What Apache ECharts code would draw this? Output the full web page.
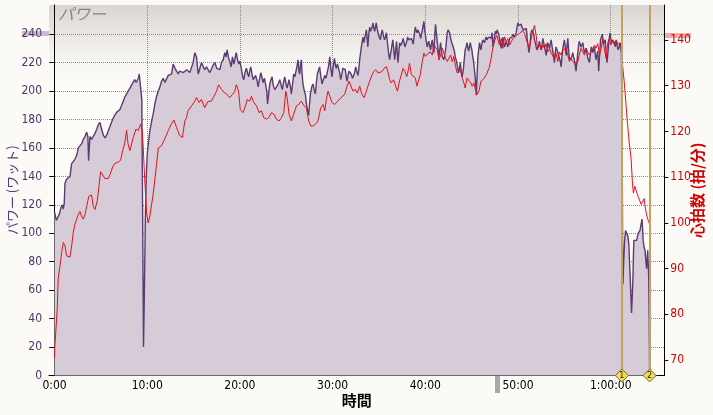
<!DOCTYPE html>
<html>
<head>
<meta charset="utf-8">
<script src="https://cdn.jsdelivr.net/npm/echarts@6/dist/echarts.min.js"></script>
<style>
html,body{margin:0;padding:0;background:#fcfaf6;}
#chart{width:713px;height:415px;}
</style>
</head>
<body>
<div id="chart"></div>
<script>
// ---- data (time in minutes) ----
const powerTime = [
0,0.1,0.2,0.4,0.55,0.7,0.85,0.95,1.05,1.13,
1.3,1.5,1.67,1.85,2.0,2.2,2.4,2.57,2.75,2.93,
3.1,3.29,3.47,3.6,3.68,3.75,3.83,4.0,4.18,4.35,
4.55,4.7,4.9,5.05,5.27,5.45,5.63,5.8,5.98,6.15,
6.34,6.5,6.7,6.9,7.06,7.25,7.42,7.6,7.78,7.95,
8.13,8.3,8.49,8.65,8.8,8.93,9.05,9.14,9.32,9.42,
9.5,9.6,9.7,9.8,9.9,10.0,10.15,10.29,10.45,10.65,
10.8,11.0,11.2,11.37,11.55,11.73,11.9,12.09,12.27,12.45,
12.63,12.8,13.0,13.2,13.34,13.5,13.7,13.9,14.06,14.25,
14.42,14.6,14.78,14.95,15.14,15.32,15.5,15.68,15.85,16.0,
16.2,16.4,16.57,16.75,16.9,17.1,17.3,17.5,17.66,17.85,
18.0,18.2,18.37,18.5,18.62,18.75,18.9,19.05,19.2,19.35,
19.45,19.6,19.75,19.88,20.0,20.17,20.3,20.42,20.55,20.7,
20.85,20.96,21.06,21.17,21.3,21.43,21.55,21.7,21.85,21.97,
22.1,22.26,22.4,22.5,22.65,22.8,22.9,22.98,23.1,23.22,
23.35,23.47,23.6,23.76,23.9,24.05,24.2,24.3,24.45,24.58,
24.7,24.84,24.95,25.09,25.2,25.3,25.45,25.55,25.7,25.8,
25.92,26.02,26.15,26.27,26.37,26.45,26.55,26.63,26.7,26.8,
26.95,27.06,27.18,27.28,27.42,27.5,27.6,27.75,27.9,28.0,
28.14,28.25,28.36,28.5,28.6,28.72,28.86,29.0,29.15,29.28,
29.4,29.55,29.7,29.82,29.94,30.07,30.2,30.3,30.4,30.52,
30.65,30.76,30.87,31.0,31.1,31.25,31.37,31.47,31.55,31.66,
31.77,31.9,32.0,32.15,32.27,32.38,32.49,32.6,32.74,32.85,
32.92,33.02,33.1,33.2,33.28,33.37,33.46,33.55,33.64,33.72,
33.8,33.9,34.0,34.09,34.18,34.27,34.36,34.45,34.54,34.62,
34.7,34.8,34.9,35.03,35.15,35.25,35.36,35.48,35.6,35.7,
35.8,35.9,36.0,36.08,36.15,36.25,36.33,36.42,36.5,36.6,
36.7,36.8,36.9,36.97,37.05,37.14,37.23,37.32,37.4,37.5,
37.6,37.7,37.8,37.9,38.0,38.1,38.2,38.3,38.4,38.5,
38.6,38.7,38.8,38.92,39.0,39.1,39.2,39.3,39.4,39.5,
39.58,39.67,39.76,39.85,39.93,40.0,40.1,40.2,40.28,40.37,
40.47,40.57,40.66,40.75,40.84,40.93,41.0,41.1,41.2,41.3,
41.38,41.47,41.56,41.65,41.74,41.83,41.92,42.0,42.1,42.19,
42.28,42.37,42.46,42.55,42.62,42.7,42.8,42.87,42.96,43.05,
43.14,43.23,43.32,43.4,43.5,43.6,43.68,43.77,43.86,43.95,
44.03,44.1,44.2,44.3,44.4,44.5,44.58,44.67,44.76,44.85,
44.94,45.02,45.1,45.2,45.3,45.38,45.45,45.5,45.58,45.67,
45.76,45.85,45.93,46.0,46.1,46.2,46.3,46.38,46.47,46.56,
46.65,46.74,46.82,46.93,47.1,47.2,47.3,47.46,47.55,47.65,
47.75,47.83,47.92,48.0,48.1,48.2,48.28,48.37,48.46,48.55,
48.64,48.73,48.82,48.9,49.0,49.1,49.18,49.26,49.36,49.45,
49.52,49.6,49.7,49.8,49.9,49.98,50.07,50.15,50.25,50.34,
50.42,50.5,50.6,50.7,50.8,50.9,50.95,51.0,51.1,51.2,
51.3,51.4,51.5,51.6,51.7,51.78,51.87,51.96,52.03,52.1,
52.2,52.3,52.4,52.5,52.6,52.68,52.77,52.86,52.95,53.04,
53.12,53.2,53.3,53.4,53.48,53.57,53.66,53.75,53.84,53.93,
54.0,54.1,54.2,54.3,54.38,54.47,54.56,54.65,54.74,54.83,
54.92,55.0,55.1,55.19,55.28,55.37,55.46,55.55,55.62,55.7,
55.8,55.9,56.0,56.08,56.17,56.26,56.35,56.45,56.52,56.6,
56.7,56.8,56.9,56.99,57.08,57.17,57.26,57.35,57.43,57.5,
57.6,57.7,57.8,57.9,58.0,58.07,58.16,58.25,58.33,58.4,
58.5,58.6,58.65,58.7,58.8,58.9,59.0,59.1,59.15,59.2,
59.3,59.4,59.5,59.6,59.7,59.79,59.86,59.93,60.0,60.1,
60.2,60.3,60.4,60.5,60.55,60.6,60.7,60.8,60.9,61.0,
61.08,61.15,61.22,61.28,61.32,61.4,61.5,61.6,61.75,61.85,
61.96,62.03,62.1,62.18,62.25,62.32,62.4,62.45,62.5,62.65,
62.8,62.9,62.98,63.08,63.16,63.27,63.38,63.45,63.5,63.6,
63.7,63.8,63.87,63.93,63.99,64.05,64.1,64.15,64.2
];
const powerWatts = [
115,112,109,110,114,118,120,117,121,135,
138,139,140,149,150,152,155,160,161,163,
166,168,171,168,151,160,168,166,167,170,
173,176,178,174,169,167,169,172,175,178,
181,183,185,186,187,190,193,196,198,200,
202,204,205,208,206,205,209,212,211,194,
120,20,60,110,140,155,165,172,178,184,
190,196,200,203,207,209,206,207,211,210,
212,219,216,217,212,214,215,213,212,215,
216,213,214,220,227,224,212,216,220,218,
215,217,218,213,215,218,220,216,217,215,
220,222,227,224,229,224,221,217,224,219,
222,227,222,219,221,215,210,208,213,216,
212,210,214,217,212,208,209,211,207,203,
208,213,209,206,209,210,200,191,198,205,
208,210,204,201,202,204,206,208,204,201,
206,210,206,202,205,208,203,198,206,212,
210,211,217,222,214,212,219,222,213,205,
200,198,191,187,183,190,198,203,205,201,
198,206,212,215,217,211,205,208,211,209,
208,217,224,215,210,218,223,218,216,219,
220,213,208,212,216,215,215,210,207,211,
214,213,212,209,208,213,217,214,211,217,
222,227,231,235,238,234,234,240,243,237,
231,240,245,242,243,245,248,244,242,245,
248,244,241,238,236,240,243,239,236,238,
241,235,229,225,222,226,229,233,236,229,
222,229,235,227,220,227,234,232,231,234,
237,234,231,233,235,238,236,235,236,237,
235,233,239,245,243,241,243,244,240,237,
240,242,246,249,243,240,235,231,233,235,
232,229,233,236,231,227,237,247,240,234,
229,224,229,234,229,224,223,222,226,229,
235,241,243,244,241,238,235,234,232,231,
228,224,222,220,216,213,216,220,215,210,
212,215,222,229,231,234,231,228,231,234,
231,229,225,221,215,210,203,197,210,224,
229,234,231,229,233,236,235,234,236,238,
236,235,238,237,237,241,231,238,242,240,
243,244,240,237,233,230,234,238,234,231,
233,235,233,231,234,237,236,236,238,240,
239,238,239,241,245,248,246,245,246,247,
245,244,243,242,243,244,240,236,231,227,
234,241,243,244,240,236,234,231,229,228,
231,235,232,229,233,237,234,231,228,225,
229,234,232,230,233,236,232,228,224,220,
226,231,229,227,225,224,221,217,224,230,
233,236,231,225,231,237,229,222,221,221,
224,227,224,222,218,214,220,227,231,235,
233,231,232,234,230,227,228,230,227,224,
222,220,226,231,229,227,229,231,226,222,
225,228,221,214,225,236,238,240,236,233,
234,236,228,220,227,234,238,241,237,234,
236,237,234,231,234,236,232,229,231,234,
230,227,180,100,64,80,95,102,103,98,
92,80,69,55,44,55,69,85,95,95,
95,98,100,101,102,106,110,102,95,90,
88,80,75,82,88,78,69,40,0
];
const hrTime = [
0,0.05,0.12,0.3,0.4,0.6,0.77,0.95,1.13,1.3,
1.5,1.67,1.85,2.03,2.2,2.39,2.6,2.75,2.9,3.1,
3.28,3.47,3.7,4.0,4.18,4.36,4.6,4.8,4.97,5.2,
5.44,5.8,5.98,6.27,6.5,6.88,7.13,7.35,7.56,7.78,
7.93,8.13,8.3,8.5,8.78,9.03,9.3,9.46,9.57,9.75,
9.93,10.1,10.29,10.66,10.94,11.2,11.55,11.9,12.27,12.6,
12.88,13.16,13.5,13.8,14.06,14.24,14.4,14.78,15.14,15.32,
15.6,15.85,16.2,16.57,16.9,17.2,17.48,17.7,18.0,18.37,
18.6,18.9,19.2,19.45,19.6,19.75,19.88,20.04,20.33,20.6,
20.8,21.06,21.24,21.5,21.79,22.07,22.32,22.57,22.86,23.1,
23.4,23.65,23.94,24.23,24.48,24.73,24.95,25.09,25.3,25.55,
25.8,26.1,26.35,26.63,26.92,27.17,27.42,27.64,27.89,28.14,
28.36,28.54,28.72,28.97,29.15,29.33,29.5,29.7,29.94,30.2,
30.55,30.9,31.3,31.55,31.77,31.95,32.2,32.45,32.67,32.92,
33.17,33.4,33.64,33.8,34.0,34.18,34.43,34.65,34.9,35.08,
35.33,35.55,35.8,36.0,36.15,36.33,36.58,36.8,37.0,37.17,
37.35,37.6,37.8,38.0,38.1,38.3,38.5,38.7,38.92,39.1,
39.27,39.45,39.67,39.85,40.0,40.3,40.55,40.75,40.93,41.1,
41.3,41.47,41.65,41.83,42.0,42.19,42.37,42.55,42.73,42.9,
43.08,43.26,43.44,43.6,43.8,43.98,44.16,44.3,44.5,44.7,
44.9,45.06,45.24,45.4,45.6,45.8,46.0,46.3,46.6,46.9,
47.1,47.3,47.5,47.7,47.83,48.0,48.2,48.37,48.55,48.73,
48.9,49.1,49.26,49.45,49.6,49.8,50.15,50.5,50.7,50.9,
51.2,51.5,51.78,51.87,51.96,52.1,52.3,52.5,52.68,52.86,
53.04,53.2,53.4,53.57,53.75,53.93,54.1,54.3,54.47,54.65,
54.83,55.0,55.19,55.37,55.55,55.7,55.9,56.08,56.26,56.45,
56.6,56.8,56.99,57.17,57.35,57.5,57.7,57.9,58.07,58.25,
58.4,58.6,58.8,58.97,59.15,59.3,59.5,59.7,59.86,60.0,
60.2,60.4,60.58,60.76,60.9,61.1,61.2,61.25,61.45,61.8,
62.0,62.2,62.35,62.45,62.6,62.75,63.0,63.3,63.5,63.6,
63.75,63.9,64.05,64.2
];
const hrBpm = [
70.5,73.4,75.5,81.3,87.8,90.7,93.5,95.7,95,92.8,
92.5,92.5,95,97.9,99.7,100.8,102,102.5,101.5,100.8,
101.8,103.6,105.8,106.1,103.6,102.9,104.7,108,111.2,110.5,
109.7,109.7,110.5,112.2,113,113.3,113.7,115.8,117.3,120.2,
117.3,115.8,116.2,118.7,120.5,120.2,121.6,120.2,116.6,108.7,
102.2,100,101.5,106.5,111.5,116.4,116.9,118.4,120.2,121.6,
122.5,120.9,119.1,118.7,122.3,123,124.5,125.6,126.6,127.4,
126.3,127,125.2,126.6,126.6,127.7,128.8,130.2,129.2,128.4,
128.1,127.4,128.1,128.8,130.2,129.5,128.4,124.8,124.1,125.6,
127,126.6,127.7,126.3,125.6,124.1,124.5,123,122.7,123,
124.1,123.8,122.7,122.3,123,124.1,128.8,127.4,123.8,122.3,
123.8,125.6,125.9,126.6,125.6,125.2,122.3,121.2,121.2,121.6,
122,123.4,125.2,125.9,124.5,127,128.8,127.7,126.3,125.9,
126.6,127.4,128.1,129.9,131,130.6,128.8,129.2,128.4,129.9,
128.1,127.4,128.8,129.9,131,132,133.1,133.5,132.8,132.4,
133.1,133.8,134.2,132.8,131.3,130.6,131.3,129.9,128.8,130.6,
132,133.8,133.1,132,132.8,134.9,132.4,132,131.7,129.9,
129.5,132.4,135.3,137.1,136.4,137.1,137.4,136.7,138.9,139.2,
137.8,135.6,136.7,138.2,138.5,136,135.3,136,136.7,135.3,
136.4,134.2,132.8,132.4,133.5,131.7,130.6,129.5,131.7,131.7,
130.6,129.9,130.6,129.2,128.1,129,131,131.5,132.5,134,
136,138.5,140,141,141,138.9,140.3,138.2,140.7,139.6,
140.3,138.9,139.6,140.3,140.7,141,141.4,142.1,141.4,141.8,
138.2,141,143.2,143.6,141,138.2,139.2,137.8,138.9,138.2,
139.2,137.4,138.2,137.1,137.4,136,137.1,135.3,137.4,136.7,
137.8,137.4,138.2,136.7,135.3,136,135.3,135.6,134.6,135.3,
136.7,138.2,137.8,136.7,138.2,137.4,136.7,137.4,138.2,138.9,
138.2,139.2,136.7,138.2,140.3,138.2,136,139.6,140.3,138.9,
139.9,138.9,139.9,139.2,139.6,139.2,138,135,131,122,
117.5,114,108.5,106.5,108,107,105.5,104,104,105.3,
103,101.5,100.5,99.7
];
const timeTicks = [0, 10, 20, 30, 40, 50, 60];
const powerTicks = [0, 20, 40, 60, 80, 100, 120, 140, 160, 180, 200, 220, 240];
const hrTicks = [70, 80, 90, 100, 110, 120, 130, 140];
const markerTimes = [61.2, 64.2];
const markerNames = ['1', '2'];

// ---- chart ----
const LABEL_FONT = "'Liberation Sans Narrow','DejaVu Sans Condensed','Arial Narrow',sans-serif";
const JP_FONT = "'Noto Sans CJK JP','Noto Sans',sans-serif";
function fmtTime(m) {
  if (m >= 60) { const r = m - 60; return '1:' + (r < 10 ? '0' + r : r) + ':00'; }
  return m + ':00';
}
const powerData = powerTime.map((t, i) => [t, powerWatts[i]]);
const hrData = hrTime.map((t, i) => [t, hrBpm[i]]);

const chart = echarts.init(document.getElementById('chart'), null, {renderer: 'canvas'});
chart.setOption({
  animation: false,
  backgroundColor: '#fcfaf6',
  title: {
    text: 'パワー', left: 53, top: 1,
    textStyle: {fontFamily: JP_FONT, fontSize: 16, fontStyle: 'italic', fontWeight: 'normal', color: '#858381'}
  },
  grid: {
    left: 49, right: 48.7, top: 5, bottom: 39.5,
    outerBoundsMode: 'none', containLabel: false,
    show: true, borderWidth: 0,
    backgroundColor: new echarts.graphic.LinearGradient(0, 0, 0, 1, [
      {offset: 0, color: '#d9d5d1'},
      {offset: 0.05, color: '#e4e1dd'},
      {offset: 0.14, color: '#f6f4f0'},
      {offset: 0.22, color: '#fcfbf7'},
      {offset: 1, color: '#fcfbf7'}
    ])
  },
  xAxis: {
    type: 'value', min: -0.593, max: 65.78,
    name: '時間', nameLocation: 'middle', nameGap: 17, nameMoveOverlap: false,
    nameTextStyle: {fontFamily: JP_FONT, fontSize: 15, fontWeight: 'bold', color: '#000'},
    axisLine: {show: true, onZero: false, lineStyle: {color: '#000', width: 1}},
    axisTick: {show: false, customValues: timeTicks},
    axisLabel: {customValues: timeTicks, formatter: fmtTime, margin: 4,
      fontFamily: LABEL_FONT, fontSize: 12, color: '#000'},
    splitLine: {show: true, lineStyle: {color: '#8c8c8c', width: 1, type: [1, 1]}}
  },
  yAxis: [{
    type: 'value', min: 0, max: 260.5, position: 'left',
    name: 'パワー (ワット)', nameLocation: 'middle', nameGap: 30, nameRotate: 90, nameMoveOverlap: false,
    nameTextStyle: {fontFamily: JP_FONT, fontSize: 13, color: '#5a3a78'},
    axisLine: {show: true, lineStyle: {color: '#000', width: 1}},
    axisTick: {show: true, length: 5, customValues: powerTicks, lineStyle: {color: '#000'}},
    axisLabel: {customValues: powerTicks, margin: 7, fontFamily: LABEL_FONT, fontSize: 12, color: '#4e3468'},
    splitLine: {show: true, lineStyle: {color: '#8c8c8c', width: 1, type: [1, 1]}}
  }, {
    type: 'value', min: 66.6, max: 147.66, position: 'right',
    name: '心拍数 (拍/分)', nameLocation: 'middle', nameGap: 25, nameRotate: 90, nameMoveOverlap: false,
    nameTextStyle: {fontFamily: JP_FONT, fontSize: 15, fontWeight: 'bold', color: '#d40000'},
    axisLine: {show: true, lineStyle: {color: '#000', width: 1}},
    axisTick: {show: true, length: 4, customValues: hrTicks, lineStyle: {color: '#000'}},
    axisLabel: {customValues: hrTicks, margin: 6, fontFamily: LABEL_FONT, fontSize: 12, color: '#d40000'},
    splitLine: {show: false}
  }],
  series: [{
    name: 'パワー', type: 'line', yAxisIndex: 0, data: powerData,
    symbol: 'none', z: 2,
    lineStyle: {color: '#5b3b72', width: 1.4},
    areaStyle: {color: '#d6ccd7', opacity: 1},
    markLine: {
      silent: true, symbol: ['none', 'none'], label: {show: false},
      lineStyle: {color: '#c4a062', width: 2, type: 'solid'},
      data: markerTimes.map(t => ({xAxis: t}))
    }
  }, {
    name: '心拍数', type: 'line', yAxisIndex: 1, data: hrData,
    symbol: 'none', z: 3,
    lineStyle: {color: '#e8101a', width: 1},
    markPoint: {
      silent: true, symbol: 'diamond', symbolSize: [13, 13],
      itemStyle: {color: '#f0de5a', borderColor: '#7a6420', borderWidth: 1},
      label: {show: true, formatter: '{b}', fontSize: 8, color: '#222', fontFamily: 'DejaVu Sans'},
      data: markerTimes.map((t, i) => ({name: markerNames[i], coord: [t, 66.6]}))
    }
  }],
  graphic: [
    {type: 'rect', z: -1, shape: {x: 22, y: 31, width: 27, height: 5}, style: {fill: '#cbbccd'}},
    {type: 'rect', z: -1, shape: {x: 665, y: 33, width: 26, height: 5}, style: {fill: '#f2a9a9'}},
    {type: 'rect', shape: {x: 495, y: 376, width: 5, height: 17}, style: {fill: '#a8a8a8'}}
  ]
});
</script>
</body>
</html>
